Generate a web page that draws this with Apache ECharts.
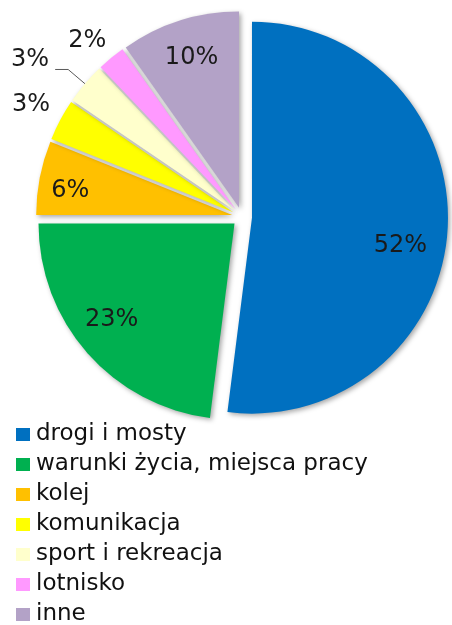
<!DOCTYPE html>
<html>
<head>
<meta charset="utf-8">
<script src="https://cdn.jsdelivr.net/npm/echarts@6/dist/echarts.min.js"></script>
<style>
  html, body { margin: 0; padding: 0; background: #fff; }
  #chart { width: 452px; height: 625px; }
</style>
</head>
<body>
<div id="chart"></div>
<script>
// ---- data ----
const categories = ['drogi i mosty', 'warunki życia, miejsca pracy', 'kolej', 'komunikacja', 'sport i rekreacja', 'lotnisko', 'inne'];
const shares = [52, 23, 6.1, 3.4, 3.4, 2.3, 9.8];
const shareLabels = ['52%', '23%', '6%', '3%', '3%', '2%', '10%'];
const colors = ['#0070C0', '#00B050', '#FFC000', '#FFFF00', '#FFFFCC', '#FF99FF', '#B3A2C7'];

// which label goes where
const innerIdx = [0, 1, 2, 6];
const outerIdx = [3, 5];
const leaderIdx = [4];

const FONT = 'DejaVu Sans';
const CX = 242, CY = 217, R = 196, OFF = 10;

// small label nudges (best-fit placement like the original)
const nudges = {
  inner: { 0: [-11, 18], 1: [-3, -10], 2: [-5, 6], 6: [1, 3] },
  outer: { 3: [1, 1], 5: [-2, 9] },
  main: { 4: [-1, -10] }
};
function nudger(key) {
  return function (p) {
    const n = nudges[key][p.dataIndex];
    return n ? { dx: n[0], dy: n[1] } : {};
  };
}

const shadow = { shadowBlur: 5, shadowOffsetX: 2, shadowOffsetY: 2, shadowColor: 'rgba(0,0,0,0.35)' };

const mainData = categories.map((name, i) => {
  const item = {
    name: name,
    value: shares[i],
    selected: true,
    itemStyle: Object.assign({ color: colors[i] }, shadow),
    label: { show: false },
    labelLine: { show: false }
  };
  if (leaderIdx.includes(i)) {
    item.label = {
      show: true, position: 'outside', formatter: shareLabels[i],
      fontFamily: FONT, fontSize: 24, color: '#1a1a1a', distanceToLabelLine: 5
    };
    item.labelLine = { show: true, length: 22, length2: 13, lineStyle: { color: '#595959', width: 1 } };
  }
  return item;
});

function labelRing(indices) {
  return categories.map((name, i) => ({
    name: 'lbl-' + name,
    value: shares[i],
    selected: true,
    itemStyle: { color: 'rgba(0,0,0,0)' },
    label: { show: indices.includes(i), formatter: shareLabels[i] }
  }));
}

const ringCommon = {
  type: 'pie',
  center: [CX, CY],
  startAngle: 90,
  clockwise: true,
  selectedMode: 'multiple',
  selectedOffset: OFF,
  silent: true,
  avoidLabelOverlap: false,
  animation: false,
  label: { position: 'inside', fontFamily: FONT, fontSize: 24, color: '#1a1a1a' },
  labelLine: { show: false },
  select: { itemStyle: { color: 'rgba(0,0,0,0)', borderWidth: 0 } },
  emphasis: { disabled: true }
};

const chart = echarts.init(document.getElementById('chart'), null, { renderer: 'canvas' });
chart.setOption({
  animation: false,
  backgroundColor: '#ffffff',
  legend: {
    data: categories,
    orient: 'vertical',
    left: 16,
    top: 423,
    height: 215,
    padding: 0,
    icon: 'rect',
    itemWidth: 14,
    itemHeight: 13,
    itemGap: 7,
    textStyle: { fontFamily: FONT, fontSize: 23, color: '#111', padding: [0, 0, 0, 1] },
    selectedMode: false
  },
  series: [
    {
      type: 'pie',
      name: 'main',
      center: [CX, CY],
      radius: [0, R],
      startAngle: 90,
      clockwise: true,
      selectedMode: 'multiple',
      selectedOffset: OFF,
      avoidLabelOverlap: false,
      animation: false,
      data: mainData,
      labelLayout: nudger('main'),
      select: { itemStyle: Object.assign({ borderWidth: 0 }, shadow) },
      emphasis: { disabled: true }
    },
    Object.assign({}, ringCommon, { name: 'inner', radius: [R * 0.6, R], data: labelRing(innerIdx), labelLayout: nudger('inner') }),
    Object.assign({}, ringCommon, { name: 'outer', radius: [R, R * 1.32], data: labelRing(outerIdx), labelLayout: nudger('outer') })
  ]
});
</script>
</body>
</html>
